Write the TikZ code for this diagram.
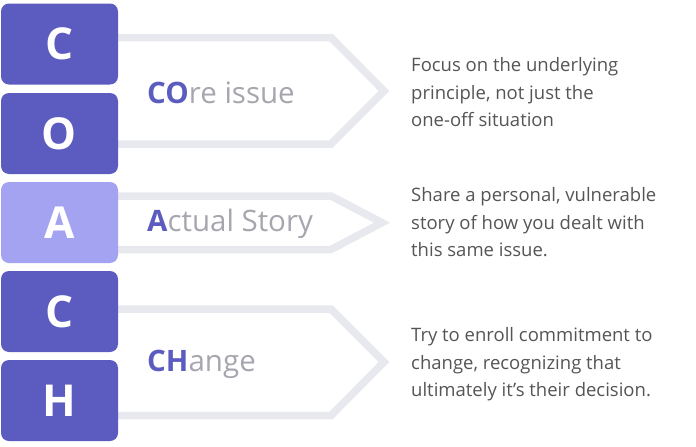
\documentclass[tikz,border=0pt]{standalone}
\usepackage{fontspec}
\setmainfont{Open Sans}
\definecolor{dpurple}{HTML}{5C5BBF}
\definecolor{lpurple}{HTML}{A3A3F2}
\definecolor{arrowgrey}{HTML}{E8E9EE}
\definecolor{labelgrey}{HTML}{A6A6AE}
\definecolor{bodygrey}{HTML}{555555}
\tikzset{
  letterbox/.style={fill=dpurple, rounded corners=8pt, minimum width=117pt, minimum height=81pt, inner sep=0pt, text=white, font=\fontsize{44}{44}\selectfont\bfseries},
  arrowline/.style={draw=arrowgrey, line width=7.5pt, line join=miter},
  label/.style={anchor=base west, inner sep=0pt, text=labelgrey, font=\fontsize{29.5}{29.5}\selectfont},
  body/.style={anchor=base west, inner sep=0pt, align=left, text=bodygrey, font=\fontsize{18.5}{27.5}\selectfont}
}
\newcommand{\hlt}[1]{\textcolor{dpurple}{\bfseries #1}}
\begin{document}
\begin{tikzpicture}[x=1pt,y=-1pt]
\useasboundingbox (0,0) rectangle (696,447);
% arrows
\coordinate (a1s) at (110,37.5);
\coordinate (a1e) at (110,144);
\draw[arrowline] (a1s) -- (331,37.5) -- (384,91) -- (331,144) -- (a1e);
\coordinate (a2s) at (110,196);
\coordinate (a2e) at (110,249.5);
\draw[arrowline] (a2s) -- (331,196) -- (382,222.7) -- (331,249.5) -- (a2e);
\coordinate (a3s) at (110,309);
\coordinate (a3e) at (110,415.5);
\draw[arrowline] (a3s) -- (331,309) -- (384,362) -- (331,415.5) -- (a3e);
% boxes
\node[letterbox] (c1) at (59.5,44) {C};
\node[letterbox] (o) at (59.5,133.5) {O};
\node[letterbox, fill=lpurple] (a) at (59.5,222.5) {A};
\node[letterbox] (c2) at (59.5,311.5) {C};
\node[letterbox] (h) at (59.5,400.5) {H};
% labels
\node[label] (l1) at (147,103) {\hlt{CO}re issue};
\node[label] (l2) at (147,231.7) {\hlt{A}ctual Story};
\node[label] (l3) at (147,371.7) {\hlt{CH}ange};
% body texts (anchor at baseline of last line)
\node[body] (t1) at (411,126.7) {Focus on the underlying\\principle, not just the\\one-off situation};
\node[body] (t2) at (411,256.7) {Share a personal, vulnerable\\story of how you dealt with\\this same issue.};
\node[body] (t3) at (411,396.7) {Try to enroll commitment to\\change, recognizing that\\ultimately it’s their decision.};
\end{tikzpicture}
\end{document}
